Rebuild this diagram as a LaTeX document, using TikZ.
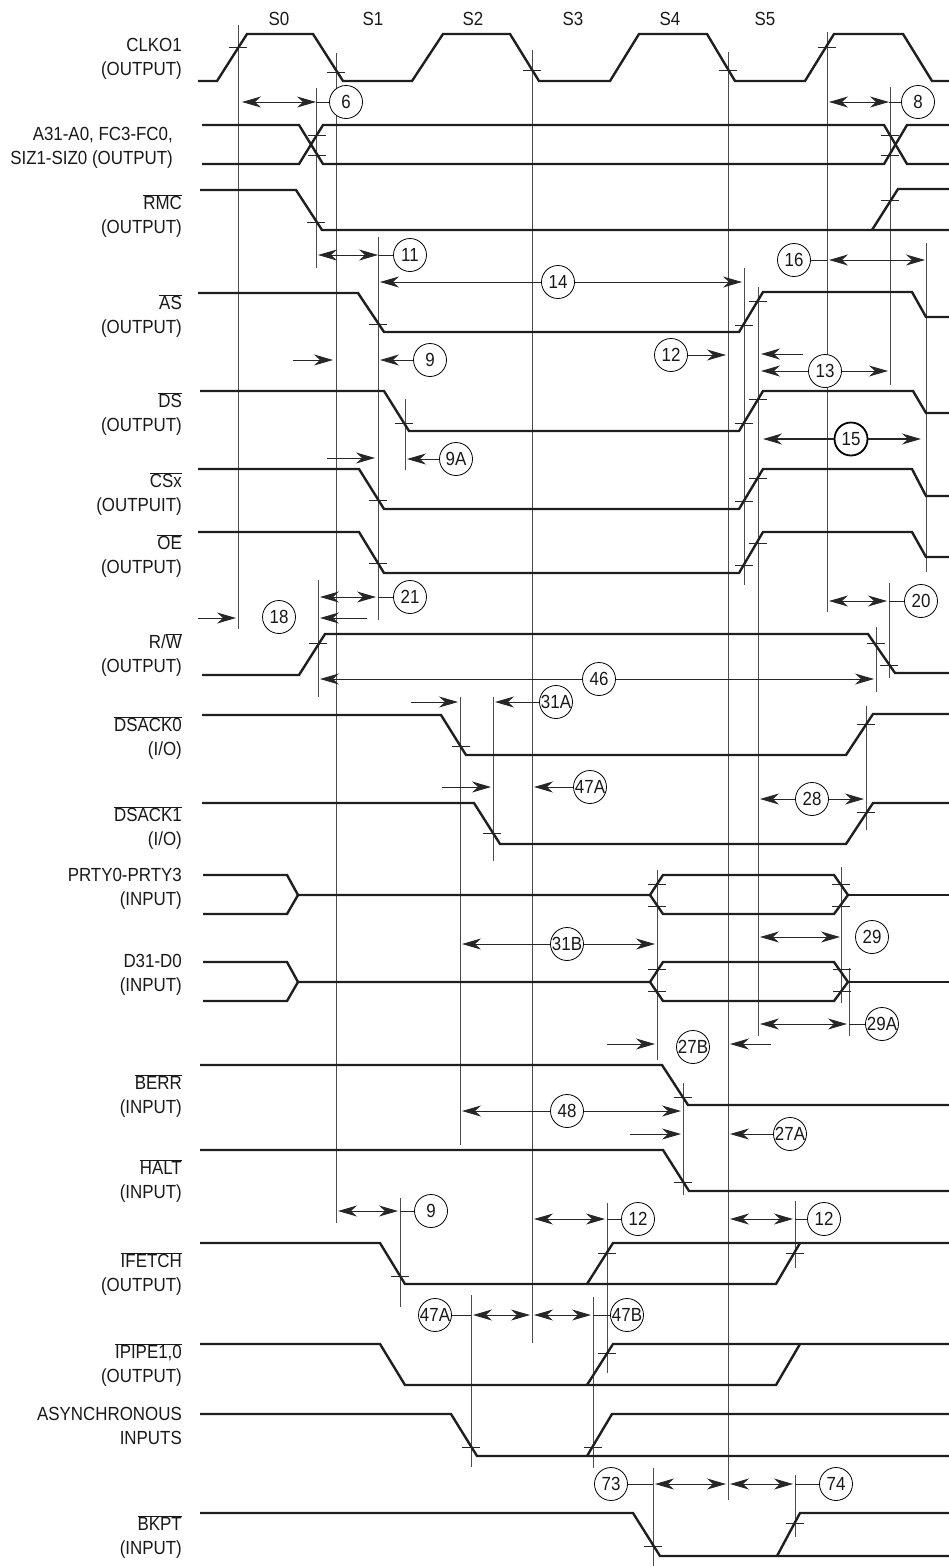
\documentclass[tikz,border=0pt]{standalone}
\usepackage{fontspec}
\setmainfont{Liberation Sans}[FakeStretch=0.89]
\usetikzlibrary{arrows.meta}
\newcommand{\ovl}[1]{$\overline{\hbox{#1}}$}
\tikzset{
  >={Stealth[length=19pt,width=11pt,inset=6pt]},
  sig/.style={line width=2.4pt, color=black!88},
  vline/.style={line width=0.9pt, color=black!70},
  tickline/.style={line width=0.9pt, color=black!85},
  dim/.style={line width=0.9pt, color=black!85},
  lbl/.style={anchor=east, align=right, inner sep=0pt, font=\fontsize{19}{24}\selectfont, text=black!90},
  slbl/.style={inner sep=0pt, font=\fontsize{19}{24}\selectfont, text=black!90},
  tnum/.style={circle, draw, line width=0.8pt, fill=white, inner sep=0pt, minimum size=33pt, font=\fontsize{19}{19}\selectfont, text=black!90},
  tbold/.style={tnum, line width=1.8pt}
}
\begin{document}
\begin{tikzpicture}[x=1pt, y=-1pt]
  \useasboundingbox (0,0) rectangle (949,1566);
  % Reference lines
  \foreach \x/\a/\b in {238/25/629, 316/88/268, 336/53/1223, 378/237/620, 405/399/470,
    318/580/697, 460/697/1145, 493/697/861, 532/50/1343, 657/870/1060, 683/1083/1195,
    728/52/1500, 744/268/585, 758/287/1036, 827/32/612, 841/867/1003, 849/968/1036,
    866/706/830, 876/627/692, 889/583/678, 890/87/385, 926/243/572, 400/1198/1307,
    607/1203/1373, 795/1201/1268, 471/1295/1467, 593/1297/1468, 653/1468/1566, 795/1475/1537}
    \draw[vline] (\x,\a) -- (\x,\b);
  % States
  \node (s0) [slbl] at (279,19) {S0};
  \node (s1) [slbl] at (373,19) {S1};
  \node (s2) [slbl] at (473,19) {S2};
  \node (s3) [slbl] at (573,19) {S3};
  \node (s4) [slbl] at (670,19) {S4};
  \node (s5) [slbl] at (765,19) {S5};
  % Labels
  \node (l-clk) [lbl] at (182,59) {CLKO1\\(OUTPUT)};
  \node (l-adr) [lbl] at (173,148) {A31-A0, FC3-FC0,\\SIZ1-SIZ0 (OUTPUT)};
  \node (l-rmc) [lbl] at (182,216) {\ovl{RMC}\\(OUTPUT)};
  \node (l-as) [lbl] at (182,316) {\ovl{AS}\\(OUTPUT)};
  \node (l-ds) [lbl] at (182,414) {\ovl{DS}\\(OUTPUT)};
  \node (l-cs) [lbl] at (182,494) {\ovl{CSx}\\(OUTPUIT)};
  \node (l-oe) [lbl] at (182,556) {\ovl{OE}\\(OUTPUT)};
  \node (l-rw) [lbl] at (182,655) {R/\ovl{W}\\(OUTPUT)};
  \node (l-dsack0) [lbl] at (182,738) {\ovl{DSACK0}\\(I/O)};
  \node (l-dsack1) [lbl] at (182,828) {\ovl{DSACK1}\\(I/O)};
  \node (l-prty) [lbl] at (182,889) {PRTY0-PRTY3\\(INPUT)};
  \node (l-data) [lbl] at (182,975) {D31-D0\\(INPUT)};
  \node (l-berr) [lbl] at (182,1096) {\ovl{BERR}\\(INPUT)};
  \node (l-halt) [lbl] at (182,1181) {\ovl{HALT}\\(INPUT)};
  \node (l-ifetch) [lbl] at (182,1274) {\ovl{IFETCH}\\(OUTPUT)};
  \node (l-ipipe) [lbl] at (182,1365) {\ovl{IPIPE1,0}\\(OUTPUT)};
  \node (l-async) [lbl] at (182,1426) {ASYNCHRONOUS\\INPUTS};
  \node (l-bkpt) [lbl] at (182,1537) {\ovl{BKPT}\\(INPUT)};
  % Signals
  \draw[sig] (198,81) -- (217,81) -- (247,34) -- (313,34) -- (343,81) -- (412,81) -- (443,34)
    -- (510,34) -- (539,81) -- (610,81) -- (639,34) -- (707,34) -- (735,81) -- (805,81)
    -- (834,34) -- (903,34) -- (932,81) -- (949,81);
  \draw[sig] (202,125) -- (299,125) -- (323,164) -- (884,164) -- (907,125) -- (949,125);
  \draw[sig] (202,164) -- (299,164) -- (323,125) -- (884,125) -- (907,164) -- (949,164);
  \draw[sig] (200,190) -- (296,190) -- (322,230) -- (949,230);
  \draw[sig] (872,230) -- (898,189) -- (949,189);
  \draw[sig] (198,293) -- (358,293) -- (384,332) -- (739,332) -- (763,292) -- (912,292) -- (926,317) -- (949,317);
  \draw[sig] (200,391) -- (384,391) -- (409,431) -- (739,431) -- (763,391) -- (913,391) -- (926,413) -- (949,413);
  \draw[sig] (198,469) -- (359,469) -- (384,509) -- (739,509) -- (763,469) -- (912,469) -- (926,496) -- (949,496);
  \draw[sig] (198,532) -- (359,532) -- (384,573) -- (739,573) -- (763,532) -- (912,532) -- (926,557) -- (949,557);
  \draw[sig] (202,675) -- (299,675) -- (325,634) -- (868,634) -- (895,673) -- (949,673);
  \draw[sig] (202,715) -- (441,715) -- (466,755) -- (846,755) -- (873,714) -- (949,714);
  \draw[sig] (202,803) -- (474,803) -- (500,844) -- (846,844) -- (873,803) -- (949,803);
  \draw[sig] (203,875) -- (287,875) -- (298,895) -- (287,914) -- (203,914);
  \draw[sig] (298,895) -- (650,895) -- (663,875) -- (834,875) -- (848,895) -- (834,914) -- (663,914) -- (650,895);
  \draw[sig] (848,895) -- (949,895);
  \draw[sig] (203,962) -- (287,962) -- (298,982) -- (287,1001) -- (203,1001);
  \draw[sig] (298,982) -- (650,982) -- (663,962) -- (834,962) -- (848,982) -- (834,1001) -- (663,1001) -- (650,982);
  \draw[sig] (848,982) -- (949,982);
  \draw[sig] (200,1065) -- (662,1065) -- (688,1105) -- (949,1105);
  \draw[sig] (200,1150) -- (663,1150) -- (689,1191) -- (949,1191);
  \draw[sig] (200,1243) -- (380,1243) -- (405,1284) -- (776,1284) -- (800,1243);
  \draw[sig] (587,1284) -- (613,1243) -- (949,1243);
  \draw[sig] (200,1344) -- (380,1344) -- (405,1385) -- (776,1385) -- (800,1344);
  \draw[sig] (587,1385) -- (613,1344) -- (949,1344);
  \draw[sig] (200,1414) -- (451,1414) -- (477,1456) -- (949,1456);
  \draw[sig] (587,1456) -- (612,1414) -- (949,1414);
  \draw[sig] (200,1513) -- (633,1513) -- (660,1556) -- (949,1556);
  \draw[sig] (777,1556) -- (800,1513) -- (949,1513);
  % Edge marks
  \foreach \x/\y in {238/47, 336/72, 532/70, 728/70, 827/47, 317/135, 317/155, 890/135, 890/155,
    316/222, 890/200, 378/324, 744/325, 758/301, 404/423, 744/423, 758/399, 378/500, 744/501,
    758/478, 378/563, 744/565, 758/543, 318/643, 876/643, 889/665, 461/746, 866/724, 492/833,
    866/812, 657/884, 657/906, 841/884, 841/906, 657/969, 657/991, 842/969, 842/991, 683/1097,
    683/1182, 400/1276, 607/1253, 795/1253, 607/1353, 471/1447, 593/1447, 653/1546, 795/1523}
    \draw[tickline] (\x-9,\y) -- (\x+9,\y);
  % Timing numbers
  \node (c6) [tnum] at (346,102) {6};
  \node (c8) [tnum] at (918,102) {8};
  \node (c11) [tnum] at (410,255) {11};
  \node (c16) [tnum] at (794,260) {16};
  \node (c14) [tnum] at (558,282) {14};
  \node (c9) [tnum] at (430,360) {9};
  \node (c12) [tnum] at (671,355) {12};
  \node (c13) [tnum] at (825,371) {13};
  \node (c9A) [tnum] at (456,459) {9A};
  \node (c15) [tbold] at (851,439) {15};
  \node (c21) [tnum] at (410,597) {21};
  \node (c18) [tnum] at (279,617) {18};
  \node (c20) [tnum] at (921,601) {20};
  \node (c46) [tnum] at (599,679) {46};
  \node (c31A) [tnum] at (556,702) {31A};
  \node (c47A) [tnum] at (590,787) {47A};
  \node (c28) [tnum] at (812,799) {28};
  \node (c31B) [tnum] at (567,944) {31B};
  \node (c29) [tnum] at (872,937) {29};
  \node (c29A) [tnum] at (882,1024) {29A};
  \node (c27B) [tnum] at (693,1047) {27B};
  \node (c48) [tnum] at (567,1111) {48};
  \node (c27A) [tnum] at (790,1134) {27A};
  \node (c9b) [tnum] at (431,1211) {9};
  \node (c12b) [tnum] at (638,1219) {12};
  \node (c12c) [tnum] at (824,1219) {12};
  \node (c47Ab) [tnum] at (435,1315) {47A};
  \node (c47B) [tnum] at (627,1315) {47B};
  \node (c73) [tnum] at (611,1484) {73};
  \node (c74) [tnum] at (836,1484) {74};
  % Arrows
  \draw[dim,<->] (242,102) -- (316,102); \draw[dim] (316,102) -- (c6);
  \draw[dim,<->] (829,102) -- (889,102); \draw[dim] (889,102) -- (c8);
  \draw[dim,<->] (318,255) -- (378,255); \draw[dim] (378,255) -- (c11);
  \draw[dim] (c16) -- (827,260); \draw[dim,<->] (829,260) -- (925,260);
  \draw[dim,<-] (380,282) -- (c14); \draw[dim,->] (c14) -- (742,282);
  \draw[dim,->] (293,360) -- (333,360); \draw[dim,->] (c9) -- (380,360);
  \draw[dim,->] (c12) -- (726,355);
  \draw[dim,->] (803,354) -- (761,354);
  \draw[dim,<-] (761,371) -- (c13); \draw[dim,->] (c13) -- (888,371);
  \draw[dim,->] (327,458) -- (375,458); \draw[dim,->] (c9A) -- (407,459);
  \draw[dim,line width=1.2pt,<-] (763,439) -- (c15); \draw[dim,line width=1.2pt,->] (c15) -- (921,439);
  \draw[dim,<->] (320,597) -- (376,597); \draw[dim] (378,597) -- (c21);
  \draw[dim,->] (367,618) -- (320,618);
  \draw[dim,->] (198,618) -- (236,618);
  \draw[dim,<->] (829,601) -- (887,601); \draw[dim] (889,601) -- (c20);
  \draw[dim,<-] (320,679) -- (c46); \draw[dim,->] (c46) -- (874,679);
  \draw[dim,->] (411,702) -- (458,702); \draw[dim,->] (c31A) -- (495,702);
  \draw[dim,->] (442,787) -- (491,787); \draw[dim,->] (c47A) -- (534,787);
  \draw[dim,<-] (760,799) -- (c28); \draw[dim,->] (c28) -- (864,799);
  \draw[dim,<-] (462,944) -- (c31B); \draw[dim,->] (c31B) -- (655,944);
  \draw[dim,<->] (760,937) -- (840,937);
  \draw[dim,<->] (760,1024) -- (847,1024); \draw[dim] (849,1024) -- (c29A);
  \draw[dim,->] (607,1044) -- (655,1044); \draw[dim,->] (771,1044) -- (730,1044);
  \draw[dim,<-] (462,1111) -- (c48); \draw[dim,->] (c48) -- (681,1111);
  \draw[dim,->] (630,1134) -- (681,1134); \draw[dim,->] (c27A) -- (730,1134);
  \draw[dim,<->] (338,1211) -- (398,1211); \draw[dim] (400,1211) -- (c9b);
  \draw[dim,<->] (534,1219) -- (605,1219); \draw[dim] (607,1219) -- (c12b);
  \draw[dim,<->] (730,1219) -- (793,1219); \draw[dim] (795,1219) -- (c12c);
  \draw[dim] (c47Ab) -- (471,1315); \draw[dim,<->] (473,1315) -- (530,1315);
  \draw[dim,<->] (534,1315) -- (591,1315); \draw[dim] (593,1315) -- (c47B);
  \draw[dim] (c73) -- (653,1484); \draw[dim,<->] (655,1484) -- (726,1484);
  \draw[dim,<->] (730,1484) -- (793,1484); \draw[dim] (795,1484) -- (c74);
\end{tikzpicture}
\end{document}
